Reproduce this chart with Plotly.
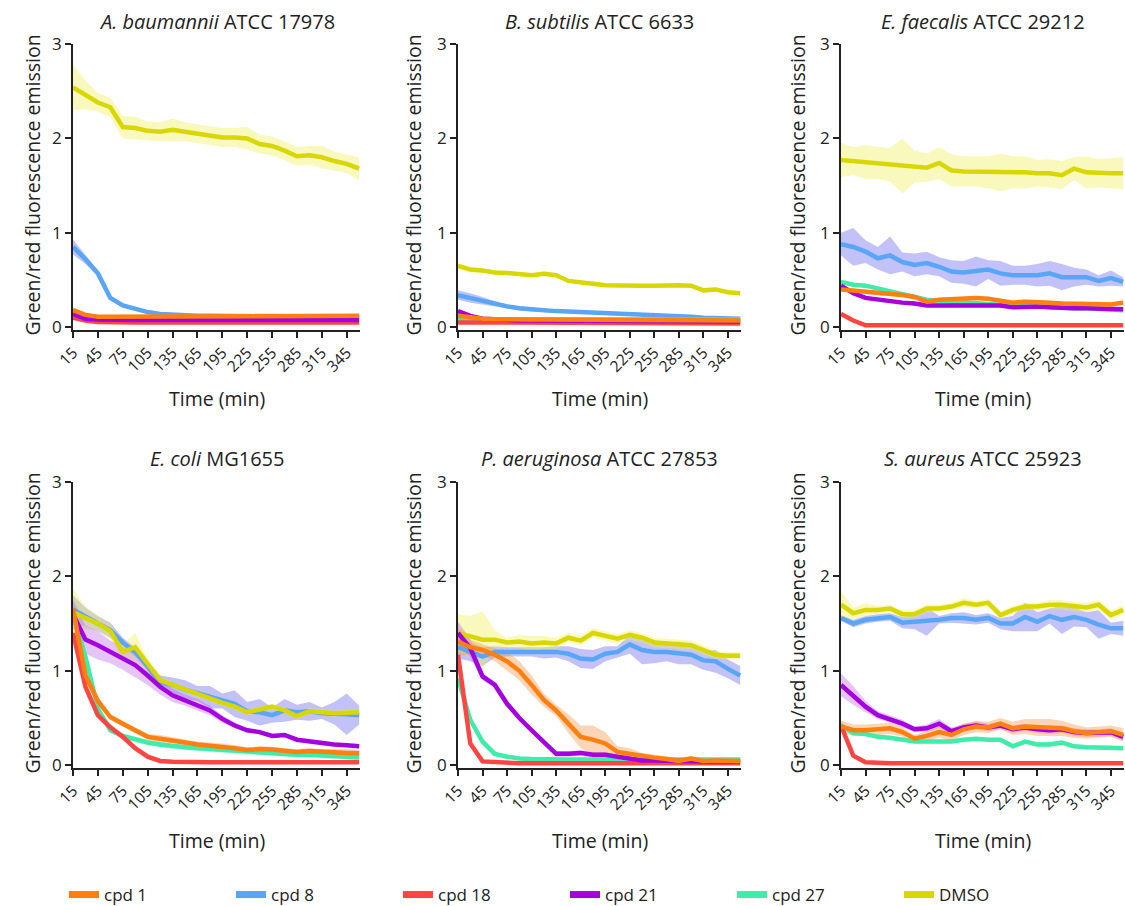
import plotly.graph_objects as go
import numpy as np

W, H = 1125, 906

TIME = [15, 30, 45, 60, 75, 90, 105, 120, 135, 150, 165, 180, 195, 210, 225, 240, 255, 270, 285, 300, 315, 330, 345, 360]
XTICKS = [15, 45, 75, 105, 135, 165, 195, 225, 255, 285, 315, 345]
YTICKS = [0, 1, 2, 3]
SERIES = ["cpd 1", "cpd 8", "cpd 18", "cpd 21", "cpd 27", "DMSO"]
TITLES = ["<i>A. baumannii</i> ATCC 17978", "<i>B. subtilis</i> ATCC 6633", "<i>E. faecalis</i> ATCC 29212",
          "<i>E. coli</i> MG1655", "<i>P. aeruginosa</i> ATCC 27853", "<i>S. aureus</i> ATCC 25923"]

# ---- A. baumannii ----
AB_CPD1 = [0.18, 0.13, 0.11, 0.11, 0.11, 0.11, 0.11, 0.11, 0.11, 0.11, 0.11, 0.11, 0.11, 0.11, 0.11, 0.11, 0.12, 0.12, 0.12, 0.12, 0.11, 0.11, 0.12, 0.12]
AB_CPD8 = [0.85, 0.72, 0.57, 0.31, 0.23, 0.19, 0.16, 0.14, 0.13, 0.12, 0.12, 0.12, 0.12, 0.11, 0.11, 0.11, 0.11, 0.11, 0.11, 0.11, 0.11, 0.11, 0.11, 0.11]
AB_CPD18 = [0.10, 0.07, 0.055, 0.05, 0.05, 0.05, 0.05, 0.05, 0.05, 0.05, 0.05, 0.05, 0.05, 0.05, 0.05, 0.05, 0.05, 0.05, 0.05, 0.05, 0.05, 0.05, 0.05, 0.05]
AB_CPD21 = [0.14, 0.09, 0.08, 0.075, 0.075, 0.075, 0.075, 0.075, 0.075, 0.075, 0.075, 0.075, 0.075, 0.075, 0.075, 0.075, 0.08, 0.08, 0.08, 0.075, 0.075, 0.075, 0.075, 0.075]
AB_CPD27 = [0.15, 0.11, 0.10, 0.10, 0.10, 0.10, 0.10, 0.10, 0.10, 0.10, 0.10, 0.10, 0.10, 0.10, 0.10, 0.10, 0.10, 0.10, 0.10, 0.10, 0.10, 0.10, 0.10, 0.10]
AB_DMSO = [2.54, 2.46, 2.38, 2.33, 2.12, 2.11, 2.08, 2.07, 2.09, 2.07, 2.05, 2.03, 2.01, 2.01, 2.00, 1.94, 1.92, 1.87, 1.81, 1.82, 1.80, 1.76, 1.73, 1.68]
AB_CPD1_SD = [0.03, 0.02, 0.02, 0.02, 0.02, 0.02, 0.02, 0.02, 0.02, 0.02, 0.02, 0.02, 0.02, 0.02, 0.02, 0.02, 0.02, 0.02, 0.02, 0.02, 0.02, 0.02, 0.02, 0.02]
AB_CPD8_SD = [0.08, 0.05, 0.03, 0.02, 0.02, 0.02, 0.01, 0.01, 0.01, 0.01, 0.01, 0.01, 0.01, 0.01, 0.01, 0.01, 0.01, 0.01, 0.01, 0.01, 0.01, 0.01, 0.01, 0.01]
AB_CPD18_SD = [0.02, 0.01, 0.01, 0.01, 0.01, 0.01, 0.01, 0.01, 0.01, 0.01, 0.01, 0.01, 0.01, 0.01, 0.01, 0.01, 0.01, 0.01, 0.01, 0.01, 0.01, 0.01, 0.01, 0.01]
AB_CPD21_SD = [0.03, 0.01, 0.01, 0.01, 0.01, 0.01, 0.01, 0.01, 0.01, 0.01, 0.01, 0.01, 0.01, 0.01, 0.01, 0.01, 0.01, 0.01, 0.01, 0.01, 0.01, 0.01, 0.01, 0.01]
AB_CPD27_SD = [0.02, 0.01, 0.01, 0.01, 0.01, 0.01, 0.01, 0.01, 0.01, 0.01, 0.01, 0.01, 0.01, 0.01, 0.01, 0.01, 0.01, 0.01, 0.01, 0.01, 0.01, 0.01, 0.01, 0.02]
AB_DMSO_SD = [0.24, 0.15, 0.10, 0.10, 0.12, 0.12, 0.10, 0.10, 0.12, 0.10, 0.10, 0.10, 0.10, 0.10, 0.12, 0.10, 0.10, 0.10, 0.10, 0.10, 0.12, 0.10, 0.10, 0.12]

# ---- B. subtilis ----
BS_CPD1 = [0.12, 0.10, 0.09, 0.085, 0.08, 0.08, 0.08, 0.08, 0.08, 0.08, 0.08, 0.08, 0.08, 0.08, 0.08, 0.08, 0.075, 0.075, 0.075, 0.075, 0.07, 0.07, 0.07, 0.07]
BS_CPD8 = [0.34, 0.31, 0.28, 0.245, 0.22, 0.20, 0.185, 0.18, 0.17, 0.165, 0.16, 0.16, 0.15, 0.14, 0.135, 0.13, 0.13, 0.12, 0.115, 0.11, 0.10, 0.095, 0.09, 0.09]
BS_CPD18 = [0.05, 0.05, 0.05, 0.05, 0.05, 0.05, 0.05, 0.05, 0.05, 0.05, 0.05, 0.05, 0.05, 0.05, 0.05, 0.05, 0.05, 0.05, 0.045, 0.045, 0.04, 0.04, 0.04, 0.04]
BS_CPD21 = [0.17, 0.12, 0.09, 0.08, 0.075, 0.07, 0.07, 0.07, 0.07, 0.07, 0.07, 0.07, 0.07, 0.07, 0.07, 0.07, 0.065, 0.065, 0.065, 0.065, 0.06, 0.06, 0.06, 0.06]
BS_CPD27 = [0.09, 0.085, 0.08, 0.08, 0.08, 0.08, 0.08, 0.08, 0.08, 0.08, 0.08, 0.08, 0.08, 0.08, 0.08, 0.08, 0.08, 0.08, 0.08, 0.08, 0.08, 0.08, 0.08, 0.08]
BS_DMSO = [0.65, 0.61, 0.60, 0.58, 0.575, 0.565, 0.55, 0.565, 0.55, 0.49, 0.47, 0.46, 0.445, 0.44, 0.44, 0.44, 0.44, 0.445, 0.445, 0.44, 0.39, 0.40, 0.37, 0.36]
BS_CPD1_SD = [0.02, 0.02, 0.02, 0.02, 0.02, 0.02, 0.02, 0.02, 0.02, 0.02, 0.02, 0.02, 0.02, 0.02, 0.02, 0.02, 0.02, 0.02, 0.02, 0.02, 0.02, 0.02, 0.02, 0.02]
BS_CPD8_SD = [0.05, 0.05, 0.04, 0.03, 0.02, 0.02, 0.02, 0.02, 0.01, 0.01, 0.01, 0.01, 0.01, 0.01, 0.01, 0.01, 0.01, 0.01, 0.01, 0.01, 0.01, 0.01, 0.01, 0.01]
BS_CPD18_SD = [0.01, 0.01, 0.01, 0.01, 0.01, 0.01, 0.01, 0.01, 0.01, 0.01, 0.01, 0.01, 0.01, 0.01, 0.01, 0.01, 0.01, 0.01, 0.01, 0.01, 0.01, 0.01, 0.01, 0.01]
BS_CPD21_SD = [0.02, 0.02, 0.01, 0.01, 0.01, 0.01, 0.01, 0.01, 0.01, 0.01, 0.01, 0.01, 0.01, 0.01, 0.01, 0.01, 0.01, 0.01, 0.01, 0.01, 0.01, 0.01, 0.01, 0.02]
BS_CPD27_SD = [0.01, 0.01, 0.01, 0.01, 0.01, 0.01, 0.01, 0.01, 0.01, 0.01, 0.01, 0.01, 0.01, 0.01, 0.01, 0.01, 0.01, 0.01, 0.01, 0.01, 0.01, 0.01, 0.01, 0.01]
BS_DMSO_SD = [0.03, 0.03, 0.02, 0.02, 0.02, 0.02, 0.02, 0.02, 0.02, 0.02, 0.02, 0.02, 0.02, 0.02, 0.02, 0.02, 0.02, 0.02, 0.02, 0.02, 0.02, 0.02, 0.02, 0.02]

# ---- E. faecalis ----
EF_CPD1 = [0.40, 0.39, 0.37, 0.36, 0.35, 0.34, 0.32, 0.27, 0.29, 0.30, 0.30, 0.31, 0.30, 0.28, 0.26, 0.27, 0.27, 0.26, 0.25, 0.25, 0.25, 0.25, 0.24, 0.26]
EF_CPD8 = [0.88, 0.85, 0.80, 0.73, 0.76, 0.69, 0.66, 0.68, 0.64, 0.59, 0.58, 0.59, 0.61, 0.57, 0.55, 0.55, 0.55, 0.57, 0.53, 0.53, 0.53, 0.49, 0.52, 0.48]
EF_CPD18 = [0.14, 0.07, 0.02, 0.02, 0.02, 0.02, 0.02, 0.02, 0.02, 0.02, 0.02, 0.02, 0.02, 0.02, 0.02, 0.02, 0.02, 0.02, 0.02, 0.02, 0.02, 0.02, 0.02, 0.02]
EF_CPD21 = [0.44, 0.36, 0.31, 0.29, 0.27, 0.26, 0.25, 0.23, 0.23, 0.23, 0.24, 0.24, 0.23, 0.23, 0.21, 0.22, 0.22, 0.21, 0.20, 0.20, 0.20, 0.20, 0.19, 0.19]
EF_CPD27 = [0.48, 0.45, 0.44, 0.41, 0.38, 0.35, 0.32, 0.29, 0.28, 0.27, 0.27, 0.26, 0.25, 0.24, 0.23, 0.22, 0.22, 0.21, 0.21, 0.20, 0.20, 0.19, 0.18, 0.18]
EF_DMSO = [1.77, 1.76, 1.75, 1.74, 1.72, 1.71, 1.70, 1.69, 1.74, 1.66, 1.65, 1.65, 1.64, 1.64, 1.64, 1.64, 1.63, 1.63, 1.61, 1.68, 1.64, 1.63, 1.63, 1.63]
EF_CPD1_SD = [0.02, 0.02, 0.02, 0.02, 0.02, 0.02, 0.02, 0.02, 0.02, 0.02, 0.02, 0.02, 0.02, 0.02, 0.02, 0.02, 0.02, 0.02, 0.02, 0.02, 0.02, 0.02, 0.02, 0.02]
EF_CPD8_SD = [0.12, 0.20, 0.12, 0.12, 0.20, 0.10, 0.12, 0.12, 0.10, 0.12, 0.12, 0.16, 0.10, 0.13, 0.10, 0.10, 0.12, 0.13, 0.14, 0.10, 0.08, 0.06, 0.08, 0.05]
EF_CPD18_SD = [0.02, 0.01, 0.01, 0.01, 0.01, 0.01, 0.01, 0.01, 0.01, 0.01, 0.01, 0.01, 0.01, 0.01, 0.01, 0.01, 0.01, 0.01, 0.01, 0.01, 0.01, 0.01, 0.01, 0.01]
EF_CPD21_SD = [0.02, 0.02, 0.02, 0.02, 0.02, 0.02, 0.02, 0.02, 0.02, 0.02, 0.02, 0.02, 0.02, 0.02, 0.02, 0.02, 0.02, 0.02, 0.02, 0.02, 0.02, 0.02, 0.02, 0.02]
EF_CPD27_SD = [0.02, 0.02, 0.02, 0.02, 0.02, 0.02, 0.02, 0.02, 0.02, 0.02, 0.02, 0.02, 0.02, 0.02, 0.02, 0.02, 0.02, 0.02, 0.02, 0.02, 0.02, 0.02, 0.02, 0.02]
EF_DMSO_SD = [0.18, 0.15, 0.18, 0.17, 0.18, 0.29, 0.17, 0.15, 0.17, 0.17, 0.16, 0.16, 0.17, 0.20, 0.17, 0.17, 0.14, 0.15, 0.15, 0.12, 0.17, 0.15, 0.16, 0.17]

# ---- E. coli ----
EC_CPD1 = [1.66, 0.95, 0.68, 0.51, 0.44, 0.37, 0.30, 0.28, 0.265, 0.24, 0.22, 0.21, 0.20, 0.18, 0.16, 0.17, 0.165, 0.15, 0.14, 0.15, 0.14, 0.135, 0.13, 0.125]
EC_CPD8 = [1.65, 1.57, 1.50, 1.43, 1.30, 1.20, 1.05, 0.88, 0.85, 0.80, 0.76, 0.72, 0.68, 0.65, 0.57, 0.56, 0.53, 0.58, 0.56, 0.57, 0.55, 0.55, 0.54, 0.53]
EC_CPD18 = [1.40, 0.83, 0.53, 0.40, 0.30, 0.18, 0.09, 0.045, 0.035, 0.03, 0.03, 0.03, 0.03, 0.03, 0.03, 0.03, 0.03, 0.03, 0.03, 0.03, 0.03, 0.03, 0.03, 0.03]
EC_CPD21 = [1.60, 1.33, 1.27, 1.20, 1.13, 1.06, 0.95, 0.83, 0.74, 0.69, 0.64, 0.58, 0.49, 0.42, 0.37, 0.35, 0.31, 0.32, 0.27, 0.25, 0.23, 0.22, 0.21, 0.20]
EC_CPD27 = [1.60, 1.15, 0.60, 0.37, 0.31, 0.27, 0.24, 0.22, 0.20, 0.19, 0.18, 0.17, 0.16, 0.15, 0.14, 0.135, 0.13, 0.12, 0.11, 0.11, 0.10, 0.09, 0.09, 0.08]
EC_DMSO = [1.62, 1.56, 1.50, 1.42, 1.20, 1.25, 1.07, 0.90, 0.85, 0.80, 0.75, 0.71, 0.66, 0.62, 0.56, 0.59, 0.62, 0.58, 0.52, 0.57, 0.56, 0.55, 0.555, 0.56]
EC_CPD1_SD = [0.05, 0.05, 0.04, 0.03, 0.03, 0.03, 0.03, 0.04, 0.03, 0.03, 0.03, 0.03, 0.03, 0.03, 0.03, 0.03, 0.03, 0.03, 0.03, 0.03, 0.03, 0.04, 0.04, 0.04]
EC_CPD8_SD = [0.15, 0.10, 0.08, 0.08, 0.05, 0.05, 0.05, 0.07, 0.08, 0.10, 0.08, 0.12, 0.08, 0.14, 0.10, 0.14, 0.08, 0.12, 0.08, 0.10, 0.06, 0.12, 0.22, 0.10]
EC_CPD18_SD = [0.04, 0.03, 0.03, 0.03, 0.02, 0.02, 0.02, 0.01, 0.01, 0.01, 0.01, 0.01, 0.01, 0.01, 0.01, 0.01, 0.01, 0.01, 0.01, 0.01, 0.01, 0.01, 0.01, 0.01]
EC_CPD21_SD = [0.15, 0.15, 0.15, 0.12, 0.12, 0.13, 0.10, 0.08, 0.07, 0.06, 0.06, 0.05, 0.04, 0.03, 0.02, 0.02, 0.02, 0.02, 0.02, 0.02, 0.02, 0.02, 0.02, 0.02]
EC_CPD27_SD = [0.05, 0.04, 0.03, 0.03, 0.03, 0.03, 0.03, 0.03, 0.03, 0.03, 0.03, 0.03, 0.03, 0.03, 0.03, 0.03, 0.03, 0.03, 0.03, 0.03, 0.03, 0.03, 0.03, 0.03]
EC_DMSO_SD = [0.25, 0.12, 0.08, 0.08, 0.08, 0.15, 0.05, 0.03, 0.03, 0.03, 0.03, 0.03, 0.03, 0.03, 0.03, 0.03, 0.03, 0.03, 0.03, 0.03, 0.03, 0.03, 0.03, 0.03]

# ---- P. aeruginosa ----
PA_CPD1 = [1.31, 1.25, 1.22, 1.17, 1.10, 1.00, 0.85, 0.69, 0.58, 0.44, 0.30, 0.27, 0.23, 0.14, 0.12, 0.09, 0.08, 0.065, 0.045, 0.07, 0.045, 0.05, 0.045, 0.045]
PA_CPD8 = [1.25, 1.20, 1.15, 1.20, 1.20, 1.20, 1.20, 1.19, 1.20, 1.18, 1.13, 1.12, 1.18, 1.20, 1.28, 1.22, 1.20, 1.20, 1.19, 1.17, 1.11, 1.10, 1.02, 0.95]
PA_CPD18 = [1.17, 0.23, 0.04, 0.03, 0.025, 0.02, 0.02, 0.02, 0.02, 0.02, 0.02, 0.02, 0.02, 0.02, 0.02, 0.02, 0.02, 0.02, 0.02, 0.02, 0.02, 0.02, 0.02, 0.02]
PA_CPD21 = [1.40, 1.24, 0.94, 0.85, 0.65, 0.50, 0.37, 0.25, 0.12, 0.12, 0.13, 0.11, 0.11, 0.09, 0.07, 0.05, 0.05, 0.045, 0.04, 0.04, 0.04, 0.04, 0.04, 0.04]
PA_CPD27 = [0.92, 0.48, 0.25, 0.12, 0.09, 0.07, 0.065, 0.06, 0.06, 0.06, 0.06, 0.06, 0.06, 0.06, 0.06, 0.06, 0.06, 0.06, 0.06, 0.06, 0.06, 0.06, 0.06, 0.06]
PA_DMSO = [1.40, 1.36, 1.33, 1.33, 1.30, 1.31, 1.29, 1.30, 1.29, 1.35, 1.32, 1.40, 1.37, 1.34, 1.38, 1.35, 1.30, 1.29, 1.28, 1.27, 1.22, 1.17, 1.16, 1.16]
PA_CPD1_SD = [0.15, 0.08, 0.06, 0.07, 0.10, 0.10, 0.10, 0.07, 0.06, 0.10, 0.12, 0.15, 0.12, 0.06, 0.06, 0.04, 0.03, 0.03, 0.03, 0.03, 0.02, 0.02, 0.02, 0.02]
PA_CPD8_SD = [0.12, 0.10, 0.10, 0.06, 0.05, 0.05, 0.05, 0.06, 0.06, 0.08, 0.10, 0.10, 0.08, 0.06, 0.10, 0.15, 0.12, 0.10, 0.12, 0.10, 0.10, 0.12, 0.10, 0.10]
PA_CPD18_SD = [0.03, 0.02, 0.01, 0.01, 0.01, 0.01, 0.01, 0.01, 0.01, 0.01, 0.01, 0.01, 0.01, 0.01, 0.01, 0.01, 0.01, 0.01, 0.01, 0.01, 0.01, 0.01, 0.01, 0.01]
PA_CPD21_SD = [0.12, 0.10, 0.04, 0.03, 0.03, 0.03, 0.03, 0.03, 0.03, 0.03, 0.03, 0.03, 0.03, 0.02, 0.02, 0.02, 0.02, 0.02, 0.02, 0.02, 0.02, 0.02, 0.02, 0.02]
PA_CPD27_SD = [0.03, 0.02, 0.02, 0.01, 0.01, 0.01, 0.01, 0.01, 0.01, 0.01, 0.01, 0.01, 0.01, 0.01, 0.01, 0.01, 0.01, 0.01, 0.01, 0.01, 0.01, 0.01, 0.01, 0.01]
PA_DMSO_SD = [0.20, 0.22, 0.30, 0.10, 0.05, 0.07, 0.08, 0.07, 0.06, 0.05, 0.05, 0.05, 0.05, 0.05, 0.05, 0.05, 0.05, 0.05, 0.05, 0.05, 0.05, 0.04, 0.04, 0.04]

# ---- S. aureus ----
SA_CPD1 = [0.41, 0.37, 0.37, 0.38, 0.39, 0.35, 0.28, 0.31, 0.35, 0.32, 0.38, 0.41, 0.40, 0.44, 0.39, 0.41, 0.40, 0.40, 0.39, 0.36, 0.34, 0.35, 0.36, 0.32]
SA_CPD8 = [1.56, 1.50, 1.54, 1.56, 1.57, 1.51, 1.52, 1.52, 1.54, 1.56, 1.56, 1.54, 1.56, 1.50, 1.50, 1.57, 1.52, 1.58, 1.54, 1.57, 1.54, 1.49, 1.45, 1.45]
SA_CPD18 = [0.42, 0.10, 0.03, 0.02, 0.02, 0.02, 0.02, 0.02, 0.02, 0.02, 0.02, 0.02, 0.02, 0.02, 0.02, 0.02, 0.02, 0.02, 0.02, 0.02, 0.02, 0.02, 0.02, 0.02]
SA_CPD21 = [0.85, 0.74, 0.62, 0.53, 0.49, 0.44, 0.38, 0.39, 0.44, 0.36, 0.40, 0.42, 0.40, 0.42, 0.38, 0.40, 0.38, 0.37, 0.38, 0.35, 0.34, 0.34, 0.35, 0.30]
SA_CPD27 = [0.42, 0.34, 0.33, 0.30, 0.29, 0.27, 0.25, 0.25, 0.25, 0.25, 0.27, 0.28, 0.27, 0.27, 0.20, 0.25, 0.22, 0.22, 0.24, 0.20, 0.19, 0.19, 0.19, 0.18]
SA_DMSO = [1.70, 1.61, 1.645, 1.645, 1.66, 1.60, 1.60, 1.66, 1.66, 1.68, 1.72, 1.70, 1.72, 1.59, 1.645, 1.68, 1.68, 1.70, 1.70, 1.68, 1.67, 1.70, 1.59, 1.645]
SA_CPD1_SD = [0.06, 0.06, 0.06, 0.06, 0.06, 0.05, 0.04, 0.05, 0.06, 0.06, 0.06, 0.06, 0.06, 0.06, 0.07, 0.08, 0.09, 0.09, 0.08, 0.07, 0.06, 0.06, 0.06, 0.07]
SA_CPD8_SD = [0.03, 0.04, 0.04, 0.04, 0.04, 0.06, 0.08, 0.15, 0.04, 0.05, 0.06, 0.05, 0.05, 0.06, 0.08, 0.15, 0.10, 0.08, 0.15, 0.10, 0.08, 0.15, 0.06, 0.08]
SA_CPD18_SD = [0.03, 0.02, 0.01, 0.01, 0.01, 0.01, 0.01, 0.01, 0.01, 0.01, 0.01, 0.01, 0.01, 0.01, 0.01, 0.01, 0.01, 0.01, 0.01, 0.01, 0.01, 0.01, 0.01, 0.01]
SA_CPD21_SD = [0.12, 0.10, 0.06, 0.04, 0.04, 0.04, 0.03, 0.04, 0.05, 0.04, 0.04, 0.04, 0.04, 0.04, 0.04, 0.04, 0.04, 0.04, 0.04, 0.04, 0.04, 0.04, 0.04, 0.04]
SA_CPD27_SD = [0.04, 0.02, 0.02, 0.02, 0.02, 0.02, 0.02, 0.02, 0.02, 0.02, 0.02, 0.02, 0.02, 0.02, 0.02, 0.02, 0.02, 0.02, 0.02, 0.02, 0.02, 0.02, 0.02, 0.02]
SA_DMSO_SD = [0.15, 0.06, 0.07, 0.04, 0.04, 0.04, 0.04, 0.04, 0.04, 0.04, 0.05, 0.04, 0.04, 0.04, 0.04, 0.04, 0.04, 0.05, 0.05, 0.05, 0.05, 0.05, 0.05, 0.05]

PANELS = [
    {"cpd 1": (AB_CPD1, AB_CPD1_SD), "cpd 8": (AB_CPD8, AB_CPD8_SD), "cpd 18": (AB_CPD18, AB_CPD18_SD),
     "cpd 21": (AB_CPD21, AB_CPD21_SD), "cpd 27": (AB_CPD27, AB_CPD27_SD), "DMSO": (AB_DMSO, AB_DMSO_SD)},
    {"cpd 1": (BS_CPD1, BS_CPD1_SD), "cpd 8": (BS_CPD8, BS_CPD8_SD), "cpd 18": (BS_CPD18, BS_CPD18_SD),
     "cpd 21": (BS_CPD21, BS_CPD21_SD), "cpd 27": (BS_CPD27, BS_CPD27_SD), "DMSO": (BS_DMSO, BS_DMSO_SD)},
    {"cpd 1": (EF_CPD1, EF_CPD1_SD), "cpd 8": (EF_CPD8, EF_CPD8_SD), "cpd 18": (EF_CPD18, EF_CPD18_SD),
     "cpd 21": (EF_CPD21, EF_CPD21_SD), "cpd 27": (EF_CPD27, EF_CPD27_SD), "DMSO": (EF_DMSO, EF_DMSO_SD)},
    {"cpd 1": (EC_CPD1, EC_CPD1_SD), "cpd 8": (EC_CPD8, EC_CPD8_SD), "cpd 18": (EC_CPD18, EC_CPD18_SD),
     "cpd 21": (EC_CPD21, EC_CPD21_SD), "cpd 27": (EC_CPD27, EC_CPD27_SD), "DMSO": (EC_DMSO, EC_DMSO_SD)},
    {"cpd 1": (PA_CPD1, PA_CPD1_SD), "cpd 8": (PA_CPD8, PA_CPD8_SD), "cpd 18": (PA_CPD18, PA_CPD18_SD),
     "cpd 21": (PA_CPD21, PA_CPD21_SD), "cpd 27": (PA_CPD27, PA_CPD27_SD), "DMSO": (PA_DMSO, PA_DMSO_SD)},
    {"cpd 1": (SA_CPD1, SA_CPD1_SD), "cpd 8": (SA_CPD8, SA_CPD8_SD), "cpd 18": (SA_CPD18, SA_CPD18_SD),
     "cpd 21": (SA_CPD21, SA_CPD21_SD), "cpd 27": (SA_CPD27, SA_CPD27_SD), "DMSO": (SA_DMSO, SA_DMSO_SD)},
]

COLORS = {"cpd 1": "#FF7F10", "cpd 8": "#59A6F6", "cpd 18": "#FF4444",
          "cpd 21": "#A400E0", "cpd 27": "#40ECAA", "DMSO": "#D8D800"}
FILLS = {"cpd 1": "rgba(245,150,70,0.40)", "cpd 8": "rgba(110,110,240,0.42)", "cpd 18": "rgba(255,90,90,0.30)",
         "cpd 21": "rgba(190,110,235,0.40)", "cpd 27": "rgba(70,235,170,0.30)", "DMSO": "rgba(240,240,90,0.40)"}
DRAW_ORDER = ["cpd 8", "DMSO", "cpd 27", "cpd 18", "cpd 21", "cpd 1"]

FONT = "Open Sans"
TXT = "#222222"
COL_PX = [(73, 360), (458, 741), (841, 1124)]
ROW_PX = [(44, 330), (482, 768)]
TITLE_Y = [21, 458]
XTITLE_Y = [398, 840]
YTITLE_X = [32, 413, 797]

fig = go.Figure()
annotations = []
for i, data in enumerate(PANELS):
    r, c = divmod(i, 3)
    n = i + 1
    xa = "x" if n == 1 else f"x{n}"
    ya = "y" if n == 1 else f"y{n}"
    t = np.array(TIME)
    for name in DRAW_ORDER:
        m = np.array(data[name][0]); s = np.array(data[name][1])
        up = m + s
        lo = np.clip(m - s, 0, None)
        fig.add_trace(go.Scatter(x=np.concatenate([t, t[::-1]]), y=np.concatenate([up, lo[::-1]]),
                                 fill="toself", fillcolor=FILLS[name], line=dict(width=0),
                                 mode="lines", hoverinfo="skip", showlegend=False, xaxis=xa, yaxis=ya))
    for name in DRAW_ORDER:
        m = np.array(data[name][0])
        fig.add_trace(go.Scatter(x=t, y=m, mode="lines", name=name,
                                 line=dict(color=COLORS[name], width=4.5),
                                 showlegend=False, xaxis=xa, yaxis=ya))
    x0, x1 = COL_PX[c]
    y0, y1 = ROW_PX[r]
    fig.layout[f"xaxis{'' if n == 1 else n}"] = dict(
        domain=[x0 / W, x1 / W], range=[15, 361], tickvals=XTICKS, tickangle=-45,
        ticks="outside", ticklen=6, tickwidth=1.5, tickcolor="#222", showline=True,
        linecolor="#222", linewidth=1.5, showgrid=False, zeroline=False, anchor=ya,
        tickfont=dict(family=FONT, size=15.5, color=TXT), fixedrange=True, automargin=False)
    fig.layout[f"yaxis{'' if n == 1 else n}"] = dict(
        domain=[1 - y1 / H, 1 - y0 / H], range=[-0.03, 3], tickvals=YTICKS,
        ticks="outside", ticklen=6, tickwidth=1.5, tickcolor="#222", showline=True,
        linecolor="#222", linewidth=1.5, showgrid=False, zeroline=False, anchor=xa,
        tickfont=dict(family=FONT, size=17, color=TXT), fixedrange=True, automargin=False)
    cx = (x0 + x1) / 2 / W
    annotations.append(dict(text=TITLES[i], x=cx, y=1 - TITLE_Y[r] / H, xref="paper", yref="paper",
                            showarrow=False, xanchor="center", yanchor="middle",
                            font=dict(family=FONT, size=20, color=TXT)))
    annotations.append(dict(text="Time (min)", x=cx, y=1 - XTITLE_Y[r] / H, xref="paper", yref="paper",
                            showarrow=False, xanchor="center", yanchor="middle",
                            font=dict(family=FONT, size=19.5, color=TXT)))
    annotations.append(dict(text="Green/red fluorescence emission", x=YTITLE_X[c] / W,
                            y=1 - ((y0 + y1 - 3) / 2) / H, xref="paper", yref="paper", textangle=-90,
                            showarrow=False, xanchor="center", yanchor="middle",
                            font=dict(family=FONT, size=19.5, color=TXT)))

for name in SERIES:
    fig.add_trace(go.Scatter(x=[None], y=[None], mode="lines", name=name,
                             line=dict(color=COLORS[name], width=7), showlegend=True,
                             xaxis="x", yaxis="y"))

fig.update_layout(
    width=W, height=H, margin=dict(l=0, r=0, t=0, b=0, pad=0, autoexpand=False),
    paper_bgcolor="white", plot_bgcolor="white",
    annotations=annotations,
    legend=dict(orientation="h", x=64 / W, y=1 - 895 / H, xanchor="left", yanchor="middle",
                entrywidth=122, entrywidthmode="pixels", font=dict(family=FONT, size=17, color=TXT),
                bgcolor="rgba(0,0,0,0)", itemwidth=30),
    showlegend=True,
)

fig.write_html("out.html")
